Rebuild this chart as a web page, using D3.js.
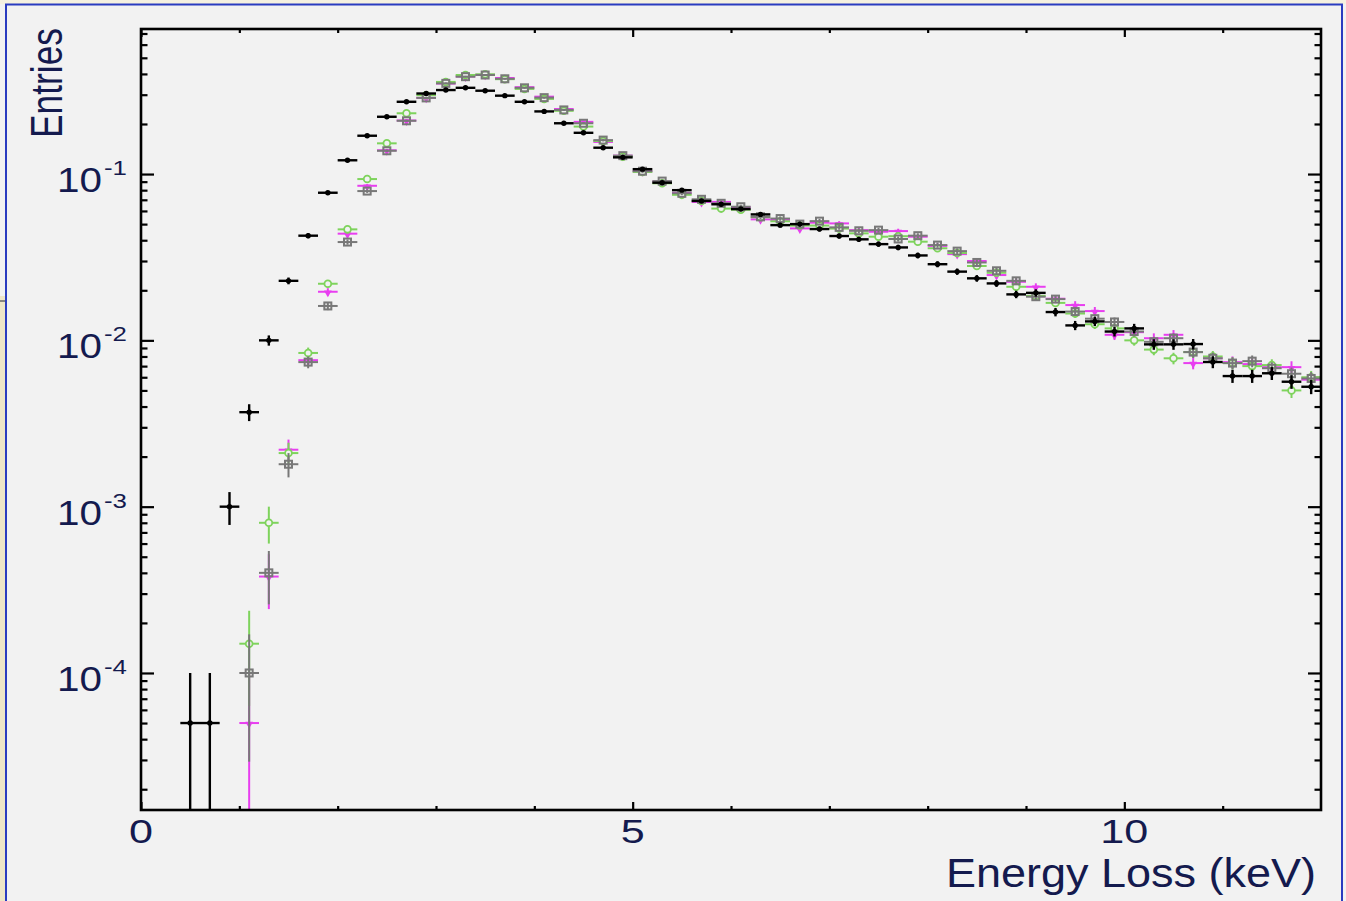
<!DOCTYPE html>
<html><head><meta charset="utf-8">
<script src="https://cdn.jsdelivr.net/npm/d3@7"></script>
<style>html,body{margin:0;padding:0;background:#f2f2f2;overflow:hidden;} svg{display:block;}</style>
</head><body>
<svg id="c" width="1346" height="901"></svg>
<script>
// ---- data (bin centres in keV, 0.2 keV bins) ----
const binCenters = [0.1,0.3,0.5,0.7,0.9,1.1,1.3,1.5,1.7,1.9,2.1,2.3,2.5,2.7,2.9,3.1,3.3,3.5,3.7,3.9,
  4.1,4.3,4.5,4.7,4.9,5.1,5.3,5.5,5.7,5.9,6.1,6.3,6.5,6.7,6.9,7.1,7.3,7.5,7.7,7.9,
  8.1,8.3,8.5,8.7,8.9,9.1,9.3,9.5,9.7,9.9,10.1,10.3,10.5,10.7,10.9,11.1,11.3,11.5,11.7,11.9];
const binHalfWidth = 0.1;
const totalEntries = 20000; // normalisation -> Poisson error sqrt(n)/N

const seriesBlack = [null,null,5e-5,5e-5,1.0e-3,3.7e-3,1.0e-2,0.0228,0.0426,0.0772,0.121,0.170,0.221,0.272,0.305,0.320,0.330,0.317,0.296,0.272,
  0.238,0.202,0.177,0.144,0.126,0.107,0.0887,0.080,0.0689,0.0658,0.0616,0.0572,0.0493,0.050,0.0467,0.0424,0.0405,0.0379,0.0362,0.0324,
  0.0287,0.0259,0.0236,0.0220,0.0189,0.0193,0.0148,0.0123,0.0130,0.0113,0.0118,0.00946,0.00946,0.0095,0.00741,0.0061,0.0061,0.00634,0.00564,0.00526];

const seriesMagenta = [null,null,null,null,null,5e-5,3.8e-4,2.2e-3,7.6e-3,0.0196,0.0438,0.085,0.139,0.210,0.287,0.350,0.386,0.395,0.378,0.333,
  0.292,0.246,0.206,0.156,0.129,0.104,0.090,0.077,0.068,0.068,0.063,0.0534,0.053,0.0471,0.051,0.0505,0.046,0.045,0.0454,0.042,
  0.037,0.033,0.030,0.0247,0.0225,0.021,0.0178,0.0163,0.0150,0.0108,0.0112,0.0103,0.0108,0.0073,0.0078,0.0074,0.0072,0.0069,0.0069,0.0058];

const seriesGreen = [null,null,null,null,null,1.5e-4,8.0e-4,2.1e-3,8.4e-3,0.0219,0.0465,0.0933,0.153,0.232,0.298,0.358,0.394,0.398,0.372,0.325,
  0.283,0.240,0.193,0.158,0.127,0.103,0.088,0.075,0.069,0.062,0.061,0.055,0.052,0.049,0.049,0.047,0.044,0.042,0.0423,0.0392,
  0.0358,0.0335,0.028,0.0255,0.021,0.0185,0.0168,0.0145,0.0125,0.0118,0.0100,0.0088,0.0078,0.0085,0.0080,0.0073,0.0070,0.0071,0.0050,0.0060];

const seriesGray = [null,null,null,null,null,1.0e-4,4.0e-4,1.8e-3,7.4e-3,0.0161,0.039,0.079,0.138,0.209,0.287,0.351,0.385,0.394,0.374,0.330,
  0.288,0.243,0.202,0.160,0.129,0.104,0.0907,0.0766,0.0705,0.0667,0.0636,0.0553,0.054,0.050,0.0521,0.0478,0.0456,0.0460,0.0407,0.0426,
  0.0374,0.0344,0.0294,0.0262,0.0228,0.0183,0.0177,0.0149,0.0135,0.0129,0.0113,0.0098,0.0103,0.0085,0.0078,0.0073,0.0075,0.0068,0.0063,0.0059];

const xMajorTicks = [0,5,10];
const xTickLabels = ["0","5","10"];
const xMinorTicks = [1,2,3,4,6,7,8,9,11];
const yMajorTicks = [1e-1,1e-2,1e-3,1e-4];
const yTickExponents = ["-1","-2","-3","-4"];
const xTitle = "Energy Loss (keV)";
const yTitle = "Entries";

// ---- layout ----
const W = 1346, H = 901;
const L = 141, R = 1321, T = 29, B = 810;
const xDomain = [0, 12];
const yDomain = [1.5e-5, 0.745];
const textColor = "#141a4e";
const font = "'Liberation Sans', Arial, Helvetica, sans-serif";

const svg = d3.select("#c");

// page decoration
svg.append("rect").attr("x",0).attr("y",0).attr("width",W).attr("height",H).attr("fill","#f2f2f2");
svg.append("rect").attr("x",0).attr("y",0).attr("width",W).attr("height",4).attr("fill","#f5f1e0");
svg.append("rect").attr("x",0).attr("y",296).attr("width",5).attr("height",H-296).attr("fill","#eee6c8");
svg.append("line").attr("x1",0).attr("x2",6).attr("y1",301).attr("y2",301).attr("stroke","#666").attr("stroke-width",1.5);
svg.append("rect").attr("x",6).attr("y",4.5).attr("width",1336).attr("height",H+10)
  .attr("fill","none").attr("stroke","#2a3cc0").attr("stroke-width",2);

const x = d3.scaleLinear().domain(xDomain).range([L, R]);
const y = d3.scaleLog().domain(yDomain).range([B, T]);

// clip
svg.append("clipPath").attr("id","plotclip").append("rect")
  .attr("x",L).attr("y",T).attr("width",R-L).attr("height",B-T);

// ---- axes (ticks inward) ----
const yMinorTicks = [];
[1e-5,1e-4,1e-3,1e-2,1e-1].forEach(d => { for (let k=2;k<=9;k++){ const v=k*d; if (v>yDomain[0] && v<yDomain[1]) yMinorTicks.push(v);} });

function styleAxis(sel){
  sel.select(".domain").remove();
  sel.selectAll(".tick line").attr("stroke","#000").attr("stroke-width",2.2);
  sel.selectAll(".tick text").remove();
}
const axes = svg.append("g");
axes.append("g").attr("transform",`translate(${L},0)`).call(d3.axisLeft(y).tickValues(yMinorTicks).tickSize(-6.5).tickFormat("")).call(styleAxis);
axes.append("g").attr("transform",`translate(${L},0)`).call(d3.axisLeft(y).tickValues(yMajorTicks).tickSize(-13).tickFormat("")).call(styleAxis);
axes.append("g").attr("transform",`translate(${R},0)`).call(d3.axisRight(y).tickValues(yMinorTicks).tickSize(-6.5).tickFormat("")).call(styleAxis);
axes.append("g").attr("transform",`translate(${R},0)`).call(d3.axisRight(y).tickValues(yMajorTicks).tickSize(-13).tickFormat("")).call(styleAxis);
axes.append("g").attr("transform",`translate(0,${B})`).call(d3.axisBottom(x).tickValues(xMinorTicks).tickSize(-4).tickFormat("")).call(styleAxis);
axes.append("g").attr("transform",`translate(0,${B})`).call(d3.axisBottom(x).tickValues(xMajorTicks).tickSize(-8).tickFormat("")).call(styleAxis);
axes.append("g").attr("transform",`translate(0,${T})`).call(d3.axisTop(x).tickValues(xMinorTicks).tickSize(-4).tickFormat("")).call(styleAxis);
axes.append("g").attr("transform",`translate(0,${T})`).call(d3.axisTop(x).tickValues(xMajorTicks).tickSize(-8).tickFormat("")).call(styleAxis);

// ---- series ----
const seriesStyles = [
  {data: seriesMagenta, color:"#e83ef0", marker:"tri"},
  {data: seriesGreen,   color:"#7ed35c", marker:"ocircle"},
  {data: seriesGray,    color:"#787878", marker:"osquare"},
  {data: seriesBlack,   color:"#000000", marker:"dot"}
];

const plot = svg.append("g").attr("clip-path","url(#plotclip)");
seriesStyles.forEach(s => {
  const pts = binCenters.map((e,i)=>({e, v:s.data[i]})).filter(d=>d.v!=null && d.v>0);
  const g = plot.append("g");
  const lw = s.marker==="dot" ? 2.4 : 2;
  g.selectAll("line.h").data(pts).join("line")
    .attr("x1",d=>x(d.e-binHalfWidth)).attr("x2",d=>x(d.e+binHalfWidth))
    .attr("y1",d=>y(d.v)).attr("y2",d=>y(d.v))
    .attr("stroke",s.color).attr("stroke-width",lw);
  g.selectAll("line.v").data(pts).join("line")
    .attr("x1",d=>x(d.e)).attr("x2",d=>x(d.e))
    .attr("y1",d=>{ const err=Math.sqrt(d.v/totalEntries); return y(Math.min(d.v+err, yDomain[1]*2)); })
    .attr("y2",d=>{ const err=Math.sqrt(d.v/totalEntries); const lo=d.v-err; return lo<=yDomain[0] ? B+5 : y(lo); })
    .attr("stroke",s.color).attr("stroke-width",lw);
  if (s.marker==="dot"){
    g.selectAll("circle").data(pts).join("circle")
      .attr("cx",d=>x(d.e)).attr("cy",d=>y(d.v)).attr("r",2.7).attr("fill",s.color);
  } else if (s.marker==="ocircle"){
    g.selectAll("circle").data(pts).join("circle")
      .attr("cx",d=>x(d.e)).attr("cy",d=>y(d.v)).attr("r",3.4)
      .attr("fill","#f2f2f2").attr("stroke",s.color).attr("stroke-width",1.8);
  } else if (s.marker==="osquare"){
    g.selectAll("rect").data(pts).join("rect")
      .attr("x",d=>x(d.e)-3.5).attr("y",d=>y(d.v)-3.5).attr("width",7).attr("height",7)
      .attr("fill","none").attr("stroke",s.color).attr("stroke-width",2);
  } else {
    const sym = d3.symbol().type(d3.symbolTriangle).size(26);
    g.selectAll("path").data(pts).join("path")
      .attr("d",sym).attr("transform",d=>`translate(${x(d.e)},${y(d.v)+1}) rotate(180)`)
      .attr("fill",s.color);
  }
});

// frame
svg.append("rect").attr("x",L).attr("y",T).attr("width",R-L).attr("height",B-T)
  .attr("fill","none").attr("stroke","#000").attr("stroke-width",2.6);

// ---- tick labels ----
yMajorTicks.forEach((t,i)=>{
  const yy = y(t);
  svg.append("text").attr("x",57).attr("y",yy+18).attr("font-family",font).attr("font-size",35)
    .attr("fill",textColor).attr("textLength",45).attr("lengthAdjust","spacingAndGlyphs").text("10");
  svg.append("text").attr("x",104).attr("y",yy+1).attr("font-family",font).attr("font-size",21)
    .attr("fill",textColor).attr("textLength",23).attr("lengthAdjust","spacingAndGlyphs").text(yTickExponents[i]);
});
xMajorTicks.forEach((t,i)=>{
  const lbl = xTickLabels[i];
  const w = lbl.length*24;
  svg.append("text").attr("x",x(t)-w/2).attr("y",843).attr("font-family",font).attr("font-size",34)
    .attr("fill",textColor).attr("textLength",w).attr("lengthAdjust","spacingAndGlyphs").text(lbl);
});

// ---- titles ----
svg.append("text").attr("x",946).attr("y",887).attr("font-family",font).attr("font-size",40)
  .attr("fill",textColor).attr("textLength",370).attr("lengthAdjust","spacingAndGlyphs").text(xTitle);
svg.append("text").attr("transform","translate(62,138) rotate(-90)").attr("font-family",font).attr("font-size",44)
  .attr("fill",textColor).attr("textLength",110).attr("lengthAdjust","spacingAndGlyphs").text(yTitle);
</script>
</body></html>
